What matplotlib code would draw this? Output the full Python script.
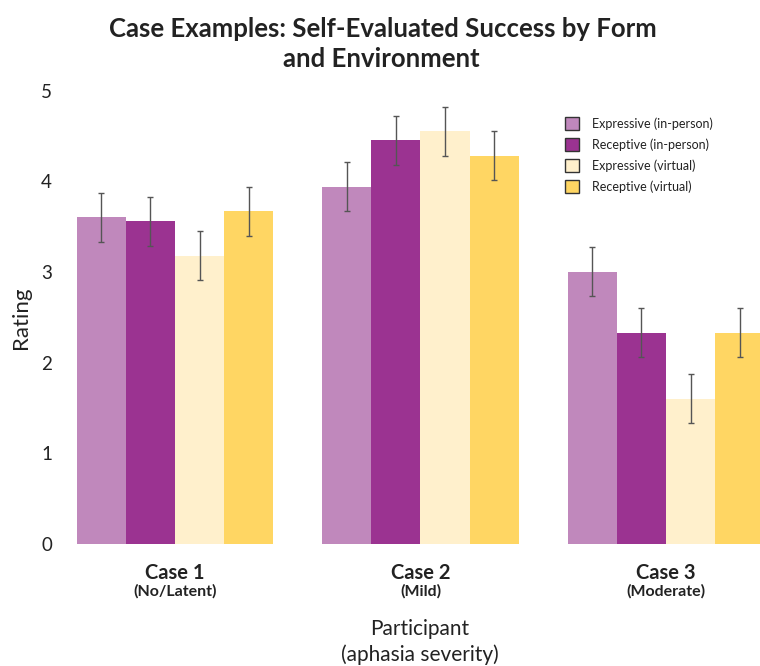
import matplotlib
matplotlib.use("Agg")
import matplotlib.pyplot as plt
import numpy as np
from matplotlib.patches import Patch

plt.rcParams['font.family'] = ['Lato', 'DejaVu Sans']

cases = ["Case 1", "Case 2", "Case 3"]
severity = ["(No/Latent)", "(Mild)", "(Moderate)"]
series = ["Expressive (in-person)", "Receptive (in-person)",
          "Expressive (virtual)", "Receptive (virtual)"]
exp_inperson = [3.60, 3.94, 3.00]
rec_inperson = [3.56, 4.45, 2.33]
exp_virtual = [3.18, 4.55, 1.60]
rec_virtual = [3.67, 4.28, 2.33]
err_exp_inperson = [0.27, 0.27, 0.27]
err_rec_inperson = [0.27, 0.27, 0.27]
err_exp_virtual = [0.27, 0.27, 0.27]
err_rec_virtual = [0.27, 0.27, 0.27]
yticks = [0, 1, 2, 3, 4, 5]

values = [exp_inperson, rec_inperson, exp_virtual, rec_virtual]
errors = [err_exp_inperson, err_rec_inperson, err_exp_virtual, err_rec_virtual]
colors = ["#C088BC", "#9B3391", "#FFF0CC", "#FFD663"]

fig = plt.figure(figsize=(7.6, 6.66), dpi=100)
ax = fig.add_axes([64.5 / 760, (666 - 544) / 666, 1 - 64.5 / 760, (544 - 90.5) / 666])

x = np.arange(len(cases))
w = 0.2
for i, (vals, errs, c) in enumerate(zip(values, errors, colors)):
    pos = x + (i - 1.5) * w
    ax.bar(pos, vals, width=w, color=c, edgecolor='none', zorder=2)
    ax.errorbar(pos, vals, yerr=errs, fmt='none', ecolor='#555555',
                elinewidth=1.0, capsize=2, capthick=1.0, zorder=3)

ax.set_xlim(-0.45, 2.383)
ax.set_ylim(0, 5)
ax.set_yticks(yticks)
ax.set_yticklabels([str(t) for t in yticks], fontsize=13.5, color='#222222')
ax.tick_params(axis='y', length=0, pad=9)
ax.set_xticks(x)
ax.set_xticklabels([])
ax.tick_params(axis='x', length=0)
for s in ax.spines.values():
    s.set_visible(False)

for xi, c, s in zip(x, cases, severity):
    ax.annotate(c, xy=(xi, 0), xycoords='data', xytext=(0, -21), textcoords='offset points',
                ha='center', va='center', fontsize=14.5, fontweight='bold', color='#222222')
    ax.annotate(s, xy=(xi, 0), xycoords='data', xytext=(0, -34), textcoords='offset points',
                ha='center', va='center', fontsize=11.5, fontweight='bold', color='#222222')

fig.text(420 / 760, 1 - 629 / 666, "Participant", ha='center', va='center',
         fontsize=15, color='#222222')
fig.text(420 / 760, 1 - 655 / 666, "(aphasia severity)", ha='center', va='center',
         fontsize=15, color='#222222')
fig.text(21 / 760, 1 - 318 / 666, "Rating", rotation=90, ha='center', va='center',
         fontsize=16, color='#222222')

fig.text(383 / 760, 1 - 29 / 666, "Case Examples: Self-Evaluated Success by Form",
         ha='center', va='center', fontsize=18.5, fontweight='bold', color='#222222')
fig.text(381 / 760, 1 - 59 / 666, "and Environment",
         ha='center', va='center', fontsize=18.5, fontweight='bold', color='#222222')

handles = [Patch(facecolor=c, edgecolor='#333333', linewidth=1.0) for c in colors]
leg = fig.legend(handles, series, loc='upper left', bbox_to_anchor=(565 / 760, 1 - 117 / 666),
                 frameon=False, fontsize=9, handlelength=1.15, handleheight=1.15,
                 handletextpad=1.0, labelspacing=0.68, borderaxespad=0, borderpad=0)
for t in leg.get_texts():
    t.set_color('#222222')

fig.savefig("out.png", dpi=100, facecolor='white')
